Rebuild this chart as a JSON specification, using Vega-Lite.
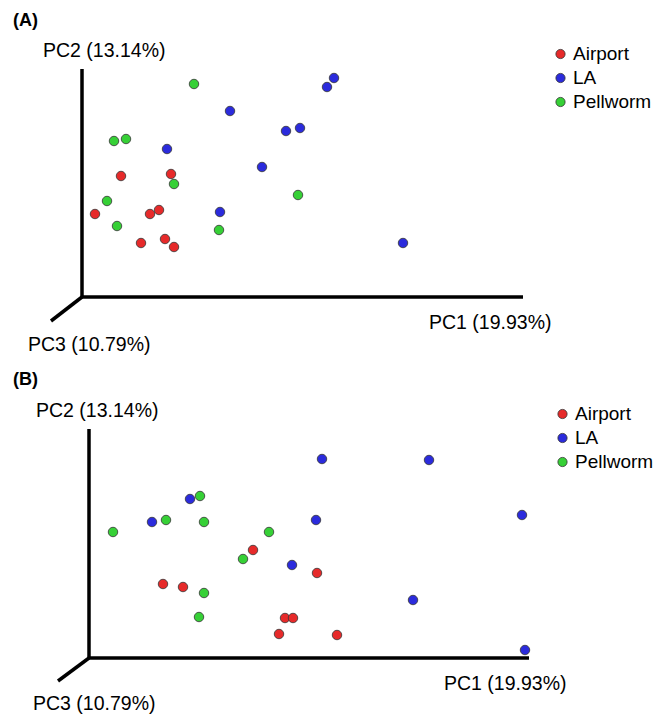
{
  "$schema": "https://vega.github.io/schema/vega-lite/v6.json",
  "padding": 0,
  "spacing": 0,
  "background": "white",
  "config": {"view": {"stroke": null}, "font": "Liberation Sans"},
  "datasets": {
    "pointsA": [
      {"group": "Airport", "pc1": 39, "pc2": 121},
      {"group": "Airport", "pc1": 89, "pc2": 123},
      {"group": "Airport", "pc1": 13, "pc2": 83},
      {"group": "Airport", "pc1": 68, "pc2": 83},
      {"group": "Airport", "pc1": 77, "pc2": 87},
      {"group": "Airport", "pc1": 59, "pc2": 54},
      {"group": "Airport", "pc1": 83, "pc2": 58},
      {"group": "Airport", "pc1": 92, "pc2": 50},
      {"group": "LA", "pc1": 148, "pc2": 186},
      {"group": "LA", "pc1": 245, "pc2": 210},
      {"group": "LA", "pc1": 252, "pc2": 219},
      {"group": "LA", "pc1": 204, "pc2": 166},
      {"group": "LA", "pc1": 218, "pc2": 169},
      {"group": "LA", "pc1": 85, "pc2": 148},
      {"group": "LA", "pc1": 180, "pc2": 130},
      {"group": "LA", "pc1": 138, "pc2": 85},
      {"group": "LA", "pc1": 321, "pc2": 54},
      {"group": "Pellworm", "pc1": 112, "pc2": 213},
      {"group": "Pellworm", "pc1": 32, "pc2": 156},
      {"group": "Pellworm", "pc1": 44, "pc2": 158},
      {"group": "Pellworm", "pc1": 92, "pc2": 113},
      {"group": "Pellworm", "pc1": 216, "pc2": 102},
      {"group": "Pellworm", "pc1": 25, "pc2": 96},
      {"group": "Pellworm", "pc1": 35, "pc2": 71},
      {"group": "Pellworm", "pc1": 137, "pc2": 67}
    ],
    "pointsB": [
      {"group": "Airport", "pc1": 164, "pc2": 108},
      {"group": "Airport", "pc1": 228, "pc2": 85},
      {"group": "Airport", "pc1": 74, "pc2": 74},
      {"group": "Airport", "pc1": 94, "pc2": 71},
      {"group": "Airport", "pc1": 196, "pc2": 40},
      {"group": "Airport", "pc1": 204, "pc2": 40},
      {"group": "Airport", "pc1": 190, "pc2": 24},
      {"group": "Airport", "pc1": 248, "pc2": 23},
      {"group": "LA", "pc1": 233, "pc2": 199},
      {"group": "LA", "pc1": 101, "pc2": 159},
      {"group": "LA", "pc1": 63, "pc2": 136},
      {"group": "LA", "pc1": 227, "pc2": 138},
      {"group": "LA", "pc1": 203, "pc2": 93},
      {"group": "LA", "pc1": 340, "pc2": 198},
      {"group": "LA", "pc1": 433, "pc2": 143},
      {"group": "LA", "pc1": 324, "pc2": 58},
      {"group": "LA", "pc1": 436, "pc2": 8},
      {"group": "Pellworm", "pc1": 111, "pc2": 162},
      {"group": "Pellworm", "pc1": 77, "pc2": 138},
      {"group": "Pellworm", "pc1": 115, "pc2": 136},
      {"group": "Pellworm", "pc1": 24, "pc2": 126},
      {"group": "Pellworm", "pc1": 180, "pc2": 126},
      {"group": "Pellworm", "pc1": 154, "pc2": 99},
      {"group": "Pellworm", "pc1": 115, "pc2": 65},
      {"group": "Pellworm", "pc1": 110, "pc2": 41}
    ],
    "axesA": [
      {"x": 0, "y": 0, "x2": 0, "y2": 228},
      {"x": 0, "y": 0, "x2": 441, "y2": 0},
      {"x": 0, "y": 0, "x2": -31, "y2": -24}
    ],
    "axesB": [
      {"x": 0, "y": 0, "x2": 0, "y2": 229},
      {"x": 0, "y": 0, "x2": 440, "y2": 0},
      {"x": 0, "y": 0, "x2": -31, "y2": -23}
    ],
    "labelsA": [
      {"label": "PC2 (13.14%)", "x": -39, "y": 240},
      {"label": "PC1 (19.93%)", "x": 347, "y": -32},
      {"label": "PC3 (10.79%)", "x": -54, "y": -54}
    ],
    "labelsB": [
      {"label": "PC2 (13.14%)", "x": -53, "y": 241},
      {"label": "PC1 (19.93%)", "x": 355, "y": -32},
      {"label": "PC3 (10.79%)", "x": -56, "y": -52}
    ],
    "titleA": [{"label": "(A)", "x": -69, "y": 271}],
    "titleB": [{"label": "(B)", "x": -76, "y": 273}]
  },
  "vconcat": [
    {
      "width": 655,
      "height": 357,
      "layer": [
        {
          "data": {"name": "axesA"},
          "mark": {"type": "rule", "color": "black", "strokeWidth": 3.5},
          "encoding": {
            "x": {"field": "x", "type": "quantitative", "scale": {"domain": [-82, 573], "nice": false, "zero": false}, "axis": null},
            "y": {"field": "y", "type": "quantitative", "scale": {"domain": [-60, 297], "nice": false, "zero": false}, "axis": null},
            "x2": {"field": "x2"},
            "y2": {"field": "y2"}
          }
        },
        {
          "data": {"name": "labelsA"},
          "mark": {"type": "text", "align": "left", "baseline": "alphabetic", "fontSize": 19.5, "font": "Liberation Sans", "color": "black"},
          "encoding": {
            "x": {"field": "x", "type": "quantitative"},
            "y": {"field": "y", "type": "quantitative"},
            "text": {"field": "label"}
          }
        },
        {
          "data": {"name": "titleA"},
          "mark": {"type": "text", "align": "left", "baseline": "alphabetic", "fontSize": 18, "fontWeight": "bold", "font": "Liberation Sans", "color": "black"},
          "encoding": {
            "x": {"field": "x", "type": "quantitative"},
            "y": {"field": "y", "type": "quantitative"},
            "text": {"field": "label"}
          }
        },
        {
          "data": {"name": "pointsA"},
          "mark": {"type": "circle", "size": 90, "opacity": 1, "stroke": "#333333", "strokeWidth": 0.8},
          "encoding": {
            "x": {"field": "pc1", "type": "quantitative"},
            "y": {"field": "pc2", "type": "quantitative"},
            "color": {
              "field": "group", "type": "nominal",
              "scale": {"domain": ["Airport", "LA", "Pellworm"], "range": ["#e62a2a", "#2b2bdc", "#36d036"]},
              "legend": {"orient": "none", "legendX": 551, "legendY": 44.5, "title": null, "padding": 0, "labelFontSize": 19, "labelFont": "Liberation Sans", "labelColor": "black", "labelLimit": 200, "symbolType": "circle", "symbolSize": 85, "rowPadding": 4, "labelOffset": 3, "symbolStrokeColor": "#333333", "symbolStrokeWidth": 0.8, "symbolOpacity": 1}
            }
          }
        }
      ]
    },
    {
      "width": 655,
      "height": 357,
      "layer": [
        {
          "data": {"name": "axesB"},
          "mark": {"type": "rule", "color": "black", "strokeWidth": 3.5},
          "encoding": {
            "x": {"field": "x", "type": "quantitative", "scale": {"domain": [-89, 566], "nice": false, "zero": false}, "axis": null},
            "y": {"field": "y", "type": "quantitative", "scale": {"domain": [-56, 301], "nice": false, "zero": false}, "axis": null},
            "x2": {"field": "x2"},
            "y2": {"field": "y2"}
          }
        },
        {
          "data": {"name": "labelsB"},
          "mark": {"type": "text", "align": "left", "baseline": "alphabetic", "fontSize": 19.5, "font": "Liberation Sans", "color": "black"},
          "encoding": {
            "x": {"field": "x", "type": "quantitative"},
            "y": {"field": "y", "type": "quantitative"},
            "text": {"field": "label"}
          }
        },
        {
          "data": {"name": "titleB"},
          "mark": {"type": "text", "align": "left", "baseline": "alphabetic", "fontSize": 18, "fontWeight": "bold", "font": "Liberation Sans", "color": "black"},
          "encoding": {
            "x": {"field": "x", "type": "quantitative"},
            "y": {"field": "y", "type": "quantitative"},
            "text": {"field": "label"}
          }
        },
        {
          "data": {"name": "pointsB"},
          "mark": {"type": "circle", "size": 90, "opacity": 1, "stroke": "#333333", "strokeWidth": 0.8},
          "encoding": {
            "x": {"field": "pc1", "type": "quantitative"},
            "y": {"field": "pc2", "type": "quantitative"},
            "color": {
              "field": "group", "type": "nominal",
              "scale": {"domain": ["Airport", "LA", "Pellworm"], "range": ["#e62a2a", "#2b2bdc", "#36d036"]},
              "legend": {"orient": "none", "legendX": 553, "legendY": 47.5, "title": null, "padding": 0, "labelFontSize": 19, "labelFont": "Liberation Sans", "labelColor": "black", "labelLimit": 200, "symbolType": "circle", "symbolSize": 85, "rowPadding": 4, "labelOffset": 3, "symbolStrokeColor": "#333333", "symbolStrokeWidth": 0.8, "symbolOpacity": 1}
            }
          }
        }
      ]
    }
  ],
  "resolve": {"scale": {"color": "independent"}, "legend": {"color": "independent"}}
}
